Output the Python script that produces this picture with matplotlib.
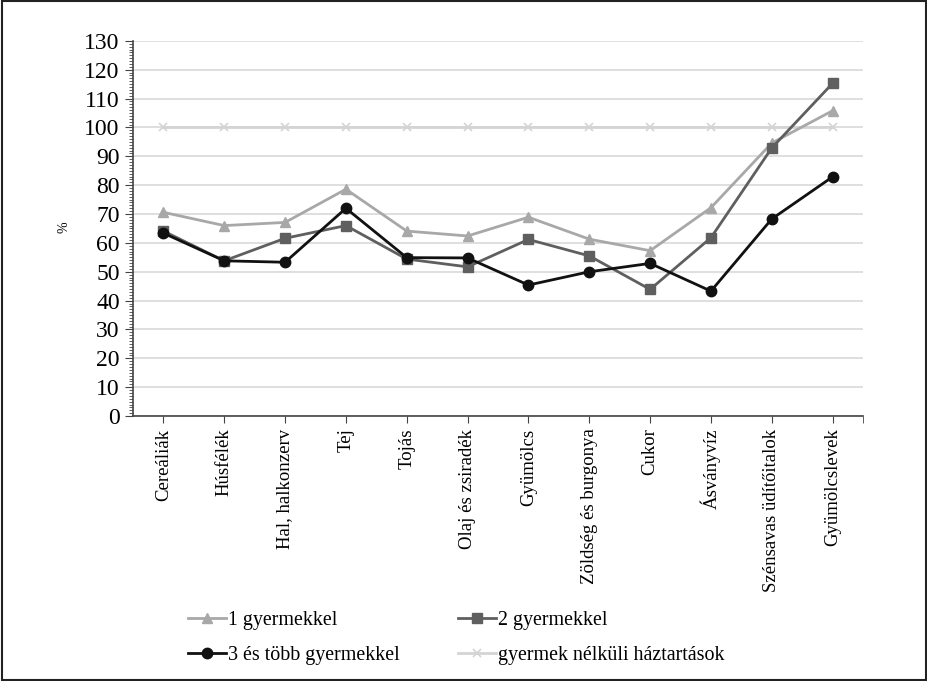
import matplotlib.pyplot as plt
from matplotlib.patches import Rectangle
from matplotlib.ticker import MultipleLocator
import numpy as np

plt.rcParams['font.family'] = ['Liberation Serif', 'DejaVu Serif']

categories = ['Cereáliák', 'Húsfélék', 'Hal, halkonzerv', 'Tej', 'Tojás',
              'Olaj és zsiradék', 'Gyümölcs', 'Zöldség és burgonya', 'Cukor',
              'Ásványvíz', 'Szénsavas üdítőitalok', 'Gyümölcslevek']
egy_gyermek = [70.6, 66, 67.1, 78.6, 64.1, 62.4, 68.9, 61.3, 57.3, 72.2, 94.6, 105.8]
ket_gyermek = [64.1, 53.8, 61.6, 66, 54.4, 51.7, 61.2, 55.5, 43.9, 61.8, 92.9, 115.3]
harom_tobb = [63.4, 53.8, 53.3, 72, 54.9, 54.8, 45.4, 50, 52.9, 43.3, 68.3, 82.9]
gyermektelen = [100] * 12

fig = plt.figure(figsize=(9.28, 6.81), dpi=100)
ax = fig.add_axes([0.1433, 0.389, 0.7867, 0.551])
x = np.arange(len(categories))

ax.plot(x, gyermektelen, color='#d4d4d4', lw=2, marker='x', ms=6, mew=1.2,
        label='gyermek nélküli háztartások', zorder=2)
ax.plot(x, egy_gyermek, color='#a8a8a8', lw=2, marker='^', ms=7.5,
        label='1 gyermekkel', zorder=3)
ax.plot(x, ket_gyermek, color='#5f5f5f', lw=2, marker='s', ms=7.5,
        label='2 gyermekkel', zorder=4)
ax.plot(x, harom_tobb, color='#111111', lw=2, marker='o', ms=7.5,
        label='3 és több gyermekkel', zorder=5)

ax.set_xlim(-0.5, len(categories) - 0.5)
ax.set_ylim(0, 130)
ax.yaxis.set_major_locator(MultipleLocator(10))
ax.yaxis.set_minor_locator(MultipleLocator(1))
ax.grid(axis='y', color='#d9d9d9', lw=1.2)
ax.set_axisbelow(True)
for s in ['top', 'right']:
    ax.spines[s].set_visible(False)
for s in ['left', 'bottom']:
    ax.spines[s].set_color('#444444')
    ax.spines[s].set_linewidth(1.2)

ax.set_xticks(x)
ax.set_xticks([len(categories) - 0.5], minor=True)
ax.set_xticklabels(categories, rotation=90, fontsize=13.5)
ax.tick_params(axis='y', which='major', labelsize=17, length=6, color='#444444')
ax.tick_params(axis='y', which='minor', length=3, color='#444444')
ax.tick_params(axis='x', which='both', length=5, color='#444444', pad=4)
ax.set_ylabel('%', fontsize=10)
ax.yaxis.set_label_coords(-0.085, 0.504)

handles, labels = ax.get_legend_handles_labels()
order = [1, 3, 2, 0]
fig.legend([handles[i] for i in order], [labels[i] for i in order],
           loc='upper left', bbox_to_anchor=(0.194, 0.115), ncol=2,
           frameon=False, fontsize=14.4, handlelength=1.9, handletextpad=0.1,
           columnspacing=2.9, labelspacing=0.8, borderaxespad=0)

fig.add_artist(Rectangle((0.002, 0.002), 0.996, 0.996, transform=fig.transFigure,
                         fill=False, edgecolor='#222222', lw=1.5))

fig.savefig('out.png', dpi=100)
